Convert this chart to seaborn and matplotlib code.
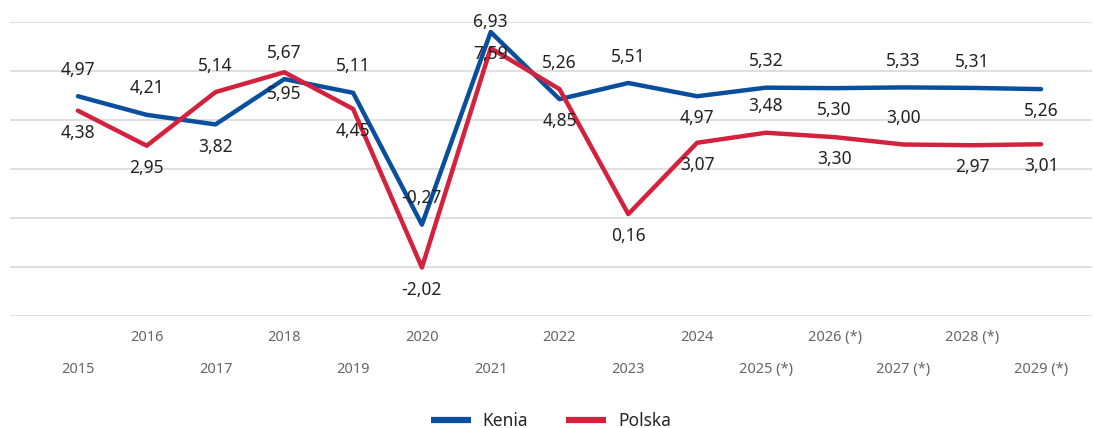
import pandas as pd
import matplotlib
matplotlib.use('Agg')
import matplotlib.pyplot as plt
import seaborn as sns

# Data
years = ['2015', '2016', '2017', '2018', '2019', '2020', '2021', '2022',
         '2023', '2024', '2025 (*)', '2026 (*)', '2027 (*)', '2028 (*)', '2029 (*)']
kenia = [4.97, 4.21, 3.82, 5.67, 5.11, -0.27, 7.59, 4.85,
         5.51, 4.97, 5.32, 5.30, 5.33, 5.31, 5.26]
polska = [4.38, 2.95, 5.14, 5.95, 4.45, -2.02, 6.93, 5.26,
          0.16, 3.07, 3.48, 3.30, 3.00, 2.97, 3.01]

# which side of the line each value label sits on (as in the original chart)
kenia_side = ['up', 'up', 'down', 'up', 'up', 'up', 'down', 'down',
              'up', 'down', 'up', 'down', 'up', 'up', 'down']
polska_side = ['down', 'down', 'up', 'down', 'down', 'down', 'up', 'up',
               'down', 'down', 'up', 'down', 'up', 'down', 'down']

df = pd.DataFrame({
    'Rok': years * 2,
    'Wartość': kenia + polska,
    'Kraj': ['Kenia'] * len(years) + ['Polska'] * len(years),
})

sns.set_style('whitegrid')
plt.rcParams['font.family'] = ['Noto Sans', 'DejaVu Sans']

colors = {'Kenia': '#0a4f9e', 'Polska': '#d4213d'}

fig = plt.figure(figsize=(10.93, 4.28), dpi=100)
ax = fig.add_axes([10 / 1093, 112 / 428, 1082 / 1093, 294 / 428])

sns.lineplot(data=df, x='Rok', y='Wartość', hue='Kraj', palette=colors,
             linewidth=3.2, sort=False, ax=ax)

# value labels
for vals, sides in [(kenia, kenia_side), (polska, polska_side)]:
    for i, (v, s) in enumerate(zip(vals, sides)):
        dy = 19 if s == 'up' else -16
        ax.annotate(f'{v:.2f}'.replace('.', ','), (i, v), xytext=(0, dy),
                    textcoords='offset points', ha='center', va='center',
                    fontsize=12.5, color='#222222')

ax.set_xlim(-0.987, 14.74)
ax.set_ylim(-4, 8)
ax.set_yticks([-4, -2, 0, 2, 4, 6, 8])
ax.set_yticklabels([])
ax.grid(axis='x', visible=False)
ax.grid(axis='y', color='#dcdcdc', linewidth=1.3)
for sp in ax.spines.values():
    sp.set_visible(False)

# staggered year labels: odd positions on the upper row, even on the lower
ax.set_xticks(range(0, len(years), 2), years[0::2])
ax.set_xticks(range(1, len(years), 2), years[1::2], minor=True)
ax.tick_params(axis='x', which='major', length=0, pad=33, labelsize=10.5, labelcolor='#666666')
ax.tick_params(axis='x', which='minor', length=0, pad=10, labelsize=10.5, labelcolor='#666666')
ax.tick_params(axis='y', length=0)
ax.set_xlabel('')
ax.set_ylabel('')

sns.move_legend(ax, 'lower center', bbox_to_anchor=(0.5, -0.44), ncol=2, frameon=False,
                title=None, fontsize=12.5, handlelength=2.3, columnspacing=2.2,
                handletextpad=0.7)
for line in ax.get_legend().get_lines():
    line.set_linewidth(4.5)
    line.set_solid_capstyle('butt')

fig.savefig('out.png', dpi=100)
